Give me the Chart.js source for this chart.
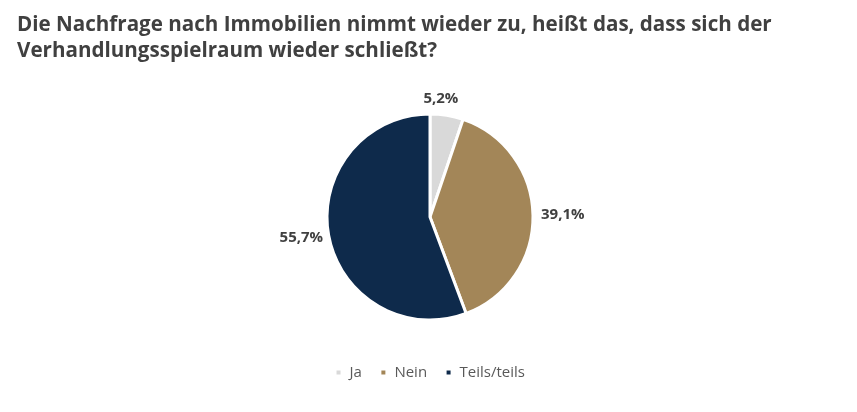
<!DOCTYPE html>
<html>
<head>
<meta charset="utf-8">
<script src="https://cdn.jsdelivr.net/npm/chart.js@4.4.0/dist/chart.umd.min.js"></script>
<style>
html,body{margin:0;padding:0;background:#fff;}
#wrap{width:857px;height:412px;position:relative;}
</style>
</head>
<body>
<div id="wrap"><canvas id="c" width="857" height="412"></canvas></div>
<script>
const titleLines = ["Die Nachfrage nach Immobilien nimmt wieder zu, heißt das, dass sich der", "Verhandlungsspielraum wieder schließt?"];
const categories = ["Ja", "Nein", "Teils/teils"];
const values = [5.2, 39.1, 55.7];
const valueLabels = ["5,2%", "39,1%", "55,7%"];
const colors = ["#d9d9d9", "#a38658", "#0e2a4b"];

const titlePlugin = {
  id: 'leftTitle',
  afterDraw(chart) {
    const ctx = chart.ctx;
    ctx.save();
    ctx.font = "bold 20.6px 'Open Sans', sans-serif";
    ctx.fillStyle = "#404040";
    ctx.textAlign = "left";
    ctx.textBaseline = "alphabetic";
    titleLines.forEach((t, i) => ctx.fillText(t, 17, 31 + i * 26));
    ctx.restore();
  }
};

const labelPlugin = {
  id: 'outLabels',
  afterDatasetsDraw(chart) {
    const ctx = chart.ctx;
    const meta = chart.getDatasetMeta(0);
    ctx.save();
    ctx.font = "bold 15px 'Open Sans', sans-serif";
    ctx.fillStyle = "#404040";
    ctx.textBaseline = "middle";
    ctx.textAlign = "center";
    meta.data.forEach((arc, i) => {
      const p = arc.getProps(['x','y','startAngle','endAngle','outerRadius'], true);
      const mid = (p.startAngle + p.endAngle) / 2;
      const cos = Math.cos(mid), sin = Math.sin(mid);
      const r = p.outerRadius + 8;
      const txt = valueLabels[i];
      const w = ctx.measureText(txt).width;
      const h = 16;
      let cx = p.x + cos * r + cos * w / 2;
      let cy = p.y + sin * r + sin * h / 2;
      if (i === 0) { cx -= 10; cy -= 1; }
      if (i === 2) { cx += 2; }
      ctx.fillText(txt, cx, cy);
    });
    ctx.restore();
  }
};

new Chart(document.getElementById('c'), {
  type: 'pie',
  data: {
    labels: categories,
    datasets: [{
      data: values,
      backgroundColor: colors,
      borderColor: "#ffffff",
      borderWidth: 3,
      hoverOffset: 0,
      radius: 103
    }]
  },
  options: {
    responsive: false,
    animation: false,
    layout: { padding: { top: 87, bottom: 22, left: 3, right: 0 } },
    plugins: {
      title: { display: false },
      legend: {
        display: true,
        position: 'bottom',
        labels: {
          color: '#595959',
          font: { family: "'Open Sans', sans-serif", size: 15 },
          boxWidth: 7,
          boxHeight: 7,
          padding: 18
        }
      },
      tooltip: { enabled: false }
    }
  },
  plugins: [labelPlugin, titlePlugin]
});
</script>
</body>
</html>
